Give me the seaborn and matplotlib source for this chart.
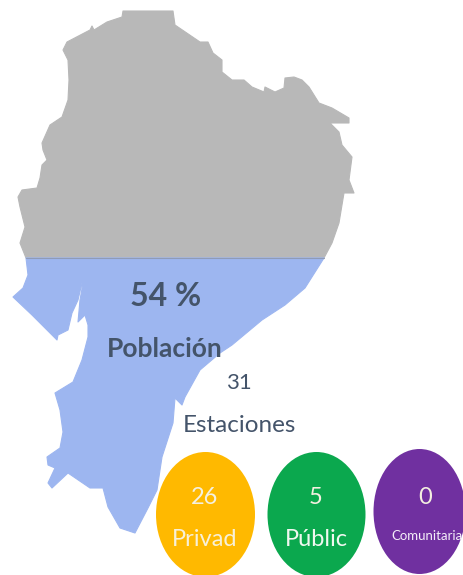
import matplotlib
matplotlib.use("Agg")
import matplotlib.pyplot as plt
from matplotlib.path import Path
from matplotlib.transforms import Affine2D
import seaborn as sns

# outline, in image pixels
gray_x = [26, 20, 25, 20, 18, 22, 37, 40, 42, 47, 43, 42, 50, 62, 68, 69, 68, 63, 67, 90, 92, 94, 107, 122,
          123, 173, 175, 200, 208, 213, 222, 222, 232, 244, 252, 264, 265, 275, 284, 285, 294, 302, 309, 319, 332,
          349, 349, 330, 339, 342, 352, 349, 354, 344, 339, 332, 324]
gray_y = [258, 243, 227, 207, 197, 190, 188, 178, 165, 160, 150, 143, 125, 117, 100, 80, 60, 50, 42, 30, 26, 30, 22, 17,
          11, 11, 25, 42, 42, 53, 60, 72, 80, 80, 87, 92, 87, 92, 88, 78, 77, 80, 87, 103, 108,
          118, 123, 123, 132, 145, 157, 180, 193, 193, 223, 243, 258]
blue_x = [26, 28, 23, 13, 32, 57, 58, 68, 72, 78, 82, 83, 80, 78, 85, 88, 88, 82, 73, 55, 60, 63, 60, 47, 48, 55, 48, 52,
          68, 90, 103, 108, 120, 135, 148, 157, 162, 173, 175, 182, 185, 200, 220, 232, 262, 285, 305, 324]
blue_y = [258, 275, 288, 297, 315, 340, 335, 330, 313, 300, 283, 283, 300, 322, 315, 325, 337, 360, 382, 393, 410, 432,
          448, 457, 465, 468, 483, 488, 473, 488, 488, 507, 528, 533, 508, 490, 457, 423, 398, 405, 397, 370, 353, 345,
          320, 305, 288, 258]

share = "54 %"
share_label = "Población"
total = 31
total_label = "Estaciones"
categories = ["Privad", "Públic", "Comunitaria"]
counts = [26, 5, 0]
colors = ["#FFB900", "#0BA84E", "#7030A0"]

bubble_x = [205, 316, 419]
bubble_y = [514, 514, 511]
bubble_w = [99, 98, 92]
bubble_h = 125

sns.set_theme(style="white")
plt.rcParams["font.family"] = ["Lato", "DejaVu Sans"]

fig = plt.figure(figsize=(4.64, 5.75), dpi=100)
ax = fig.add_axes([0, 0, 1, 1])

ax.fill(gray_x, gray_y, facecolor="#B8B8B8", edgecolor="#B8B8B8", lw=0.8, joinstyle="round")
ax.fill(blue_x, blue_y, facecolor="#9DB6F0", edgecolor="#9DB6F0", lw=0.8, joinstyle="round")
ax.plot([26, 324], [258, 258], color="#8E9BB8", lw=0.8)

# bubbles are ellipses, so a squashed circle is used as the marker
for i in range(3):
    marker = Path.unit_circle().transformed(Affine2D().scale(bubble_w[i] / bubble_h, 1))
    sns.scatterplot(x=[bubble_x[i]], y=[bubble_y[i]], marker=marker, s=(bubble_h * 0.72) ** 2,
                    color=colors[i], linewidth=0, ax=ax, legend=False)

dark = "#44546A"
ax.text(166, 296, share, color=dark, fontsize=23, fontweight="bold", ha="center", va="center")
ax.text(165, 349, share_label, color=dark, fontsize=19, fontweight="bold", ha="center", va="center")
ax.text(239, 383, str(total), color=dark, fontsize=16, ha="center", va="center")
ax.text(239, 425, total_label, color=dark, fontsize=17.5, ha="center", va="center")

for i in range(3):
    ax.text(bubble_x[i] if i < 2 else 425, 498, str(counts[i]), color="#F4F0E0", fontsize=17, ha="center", va="center")
ax.text(205, 540, categories[0], color="#F8F0D8", fontsize=17, ha="center", va="center")
ax.text(316, 540, categories[1], color="#F0F8F0", fontsize=17, ha="center", va="center")
ax.text(427, 536, categories[2], color="#F4EEF8", fontsize=9.5, ha="center", va="center")

ax.set_xlim(0, 464)
ax.set_ylim(575, 0)
ax.axis("off")

fig.savefig("out.png", dpi=100)
